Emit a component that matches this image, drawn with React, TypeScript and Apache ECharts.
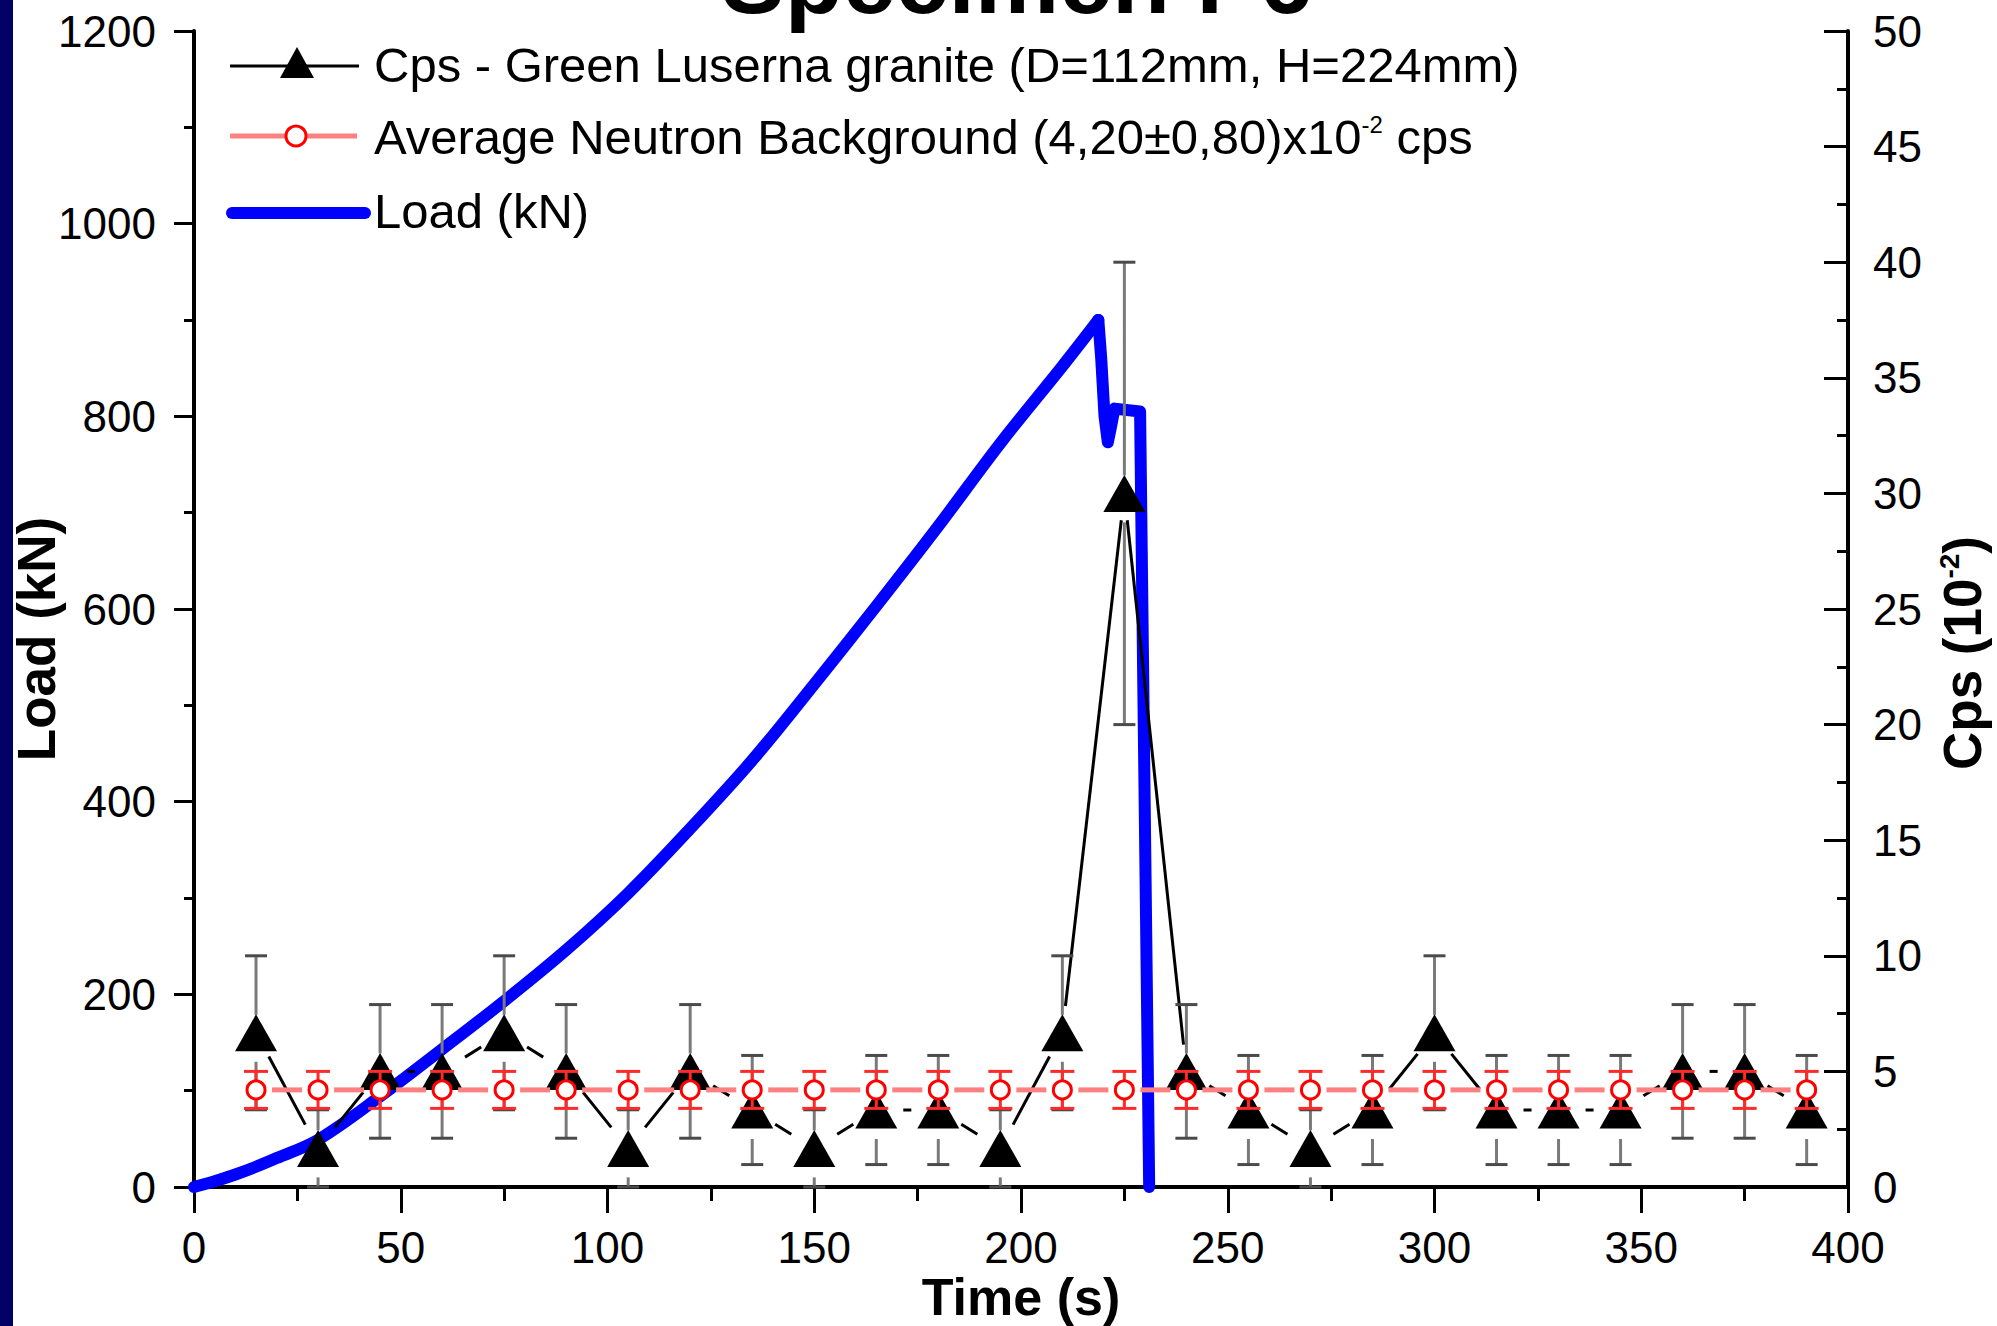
import React, { useEffect, useRef } from "react";
import * as echarts from "echarts";

// ---- Data ----
// Load (kN) vs time (s): loading branch, then failure branch
const loadTime = [0, 5, 10, 15, 20, 30, 45, 60, 75, 90, 105, 120, 135, 150, 165, 180, 195, 210, 218.7];
const loadValue = [0, 6, 13, 21, 30, 49, 94, 143, 193, 246, 305, 372, 443, 522, 603, 686, 772, 852, 900];
const failTime = [218.7, 219.4, 220.2, 221, 221.8, 222.6, 228.8, 231];
const failValue = [900, 860, 800, 773, 790, 808, 805, 0];

const cpsTime = [15, 30, 45, 60, 75, 90, 105, 120, 135, 150, 165, 180, 195, 210, 225, 240, 255, 270, 285, 300, 315, 330, 345, 360, 375, 390];
const cpsValue = [6.67, 1.67, 5, 5, 6.67, 5, 1.67, 5, 3.33, 1.67, 3.33, 3.33, 1.67, 6.67, 30, 5, 3.33, 1.67, 3.33, 6.67, 3.33, 3.33, 3.33, 5, 5, 3.33];
const cpsError = [3.33, 1.67, 2.89, 2.89, 3.33, 2.89, 1.67, 2.89, 2.36, 1.67, 2.36, 2.36, 1.67, 3.33, 10, 2.89, 2.36, 1.67, 2.36, 3.33, 2.36, 2.36, 2.36, 2.89, 2.89, 2.36];

const bgTime = [15, 30, 45, 60, 75, 90, 105, 120, 135, 150, 165, 180, 195, 210, 225, 240, 255, 270, 285, 300, 315, 330, 345, 360, 375, 390];
const bgValue = [4.2, 4.2, 4.2, 4.2, 4.2, 4.2, 4.2, 4.2, 4.2, 4.2, 4.2, 4.2, 4.2, 4.2, 4.2, 4.2, 4.2, 4.2, 4.2, 4.2, 4.2, 4.2, 4.2, 4.2, 4.2, 4.2];
const bgError = [0.8, 0.8, 0.8, 0.8, 0.8, 0.8, 0.8, 0.8, 0.8, 0.8, 0.8, 0.8, 0.8, 0.8, 0.8, 0.8, 0.8, 0.8, 0.8, 0.8, 0.8, 0.8, 0.8, 0.8, 0.8, 0.8];

const legendCps = "Cps - Green Luserna granite (D=112mm, H=224mm)";
const legendBgMain = "Average Neutron Background (4,20±0,80)x10";
const legendBgSup = "-2";
const legendBgTail = " cps";
const legendLoad = "Load (kN)";
const titleText = "Specimen P6";
const xName = "Time (s)";
const yLeftName = "Load (kN)";

const FONT = "Liberation Sans";

function segmentRenderer(gap: number, color: string, width: number) {
  return (params: any, api: any) => {
    const p1 = api.coord([api.value(0), api.value(1)]);
    const p2 = api.coord([api.value(2), api.value(3)]);
    const dx = p2[0] - p1[0];
    const dy = p2[1] - p1[1];
    const len = Math.hypot(dx, dy);
    if (len <= 2 * gap + 0.5) return { type: "group", children: [] };
    const ux = dx / len;
    const uy = dy / len;
    return {
      type: "line",
      shape: { x1: p1[0] + ux * gap, y1: p1[1] + uy * gap, x2: p2[0] - ux * gap, y2: p2[1] - uy * gap },
      style: { stroke: color, lineWidth: width, fill: null },
    };
  };
}

function cpsErrorRenderer(params: any, api: any) {
  const t = api.value(0);
  const v = api.value(1);
  const e = api.value(2);
  const c = api.coord([t, v]);
  const top = api.coord([t, v + e]);
  const bot = api.coord([t, v - e]);
  const x = c[0];
  const children: any[] = [];
  const lineStyle = { stroke: "#7a7a7a", lineWidth: 3 };
  const capStyle = { stroke: "#4a4a4a", lineWidth: 3 };
  const upStart = c[1] - 18;
  if (top[1] < upStart) {
    children.push({ type: "line", shape: { x1: x, y1: upStart, x2: x, y2: top[1] }, style: lineStyle });
    children.push({ type: "line", shape: { x1: x - 11, y1: top[1], x2: x + 11, y2: top[1] }, style: capStyle });
  }
  const lowStart = c[1] + 18 + 11;
  if (bot[1] > lowStart) {
    children.push({ type: "line", shape: { x1: x, y1: lowStart, x2: x, y2: bot[1] }, style: lineStyle });
    children.push({ type: "line", shape: { x1: x - 11, y1: bot[1], x2: x + 11, y2: bot[1] }, style: capStyle });
  }
  return { type: "group", children };
}

function bgErrorRenderer(params: any, api: any) {
  const t = api.value(0);
  const v = api.value(1);
  const e = api.value(2);
  const top = api.coord([t, v + e]);
  const bot = api.coord([t, v - e]);
  const x = top[0];
  const st = { stroke: "#ff2a2a", lineWidth: 3 };
  return {
    type: "group",
    children: [
      { type: "line", shape: { x1: x, y1: top[1], x2: x, y2: bot[1] }, style: st },
      { type: "line", shape: { x1: x - 12, y1: top[1], x2: x + 12, y2: top[1] }, style: st },
      { type: "line", shape: { x1: x - 12, y1: bot[1], x2: x + 12, y2: bot[1] }, style: st },
    ],
  };
}

export default function App() {
  const ref = useRef<HTMLDivElement>(null);

  useEffect(() => {
    if (!ref.current) return;
    const chart = echarts.init(ref.current, null, { renderer: "svg" });

    const axisLabel = { color: "#000", fontSize: 44, fontFamily: FONT, formatter: (v: number) => String(v) };
    const axisLine = { show: true, onZero: false, lineStyle: { color: "#000", width: 4 } };

    const option: any = {
      animation: false,
      backgroundColor: "#ffffff",
      textStyle: { fontFamily: FONT },
      grid: { left: 194, right: 149, top: 31, bottom: 139, containLabel: false },
      xAxis: {
        type: "value",
        min: 0,
        max: 400,
        interval: 50,
        axisLine,
        axisTick: { show: true, inside: false, length: 26, lineStyle: { color: "#000", width: 3 } },
        minorTick: { show: true, splitNumber: 2, length: 14, lineStyle: { color: "#000", width: 3 } },
        axisLabel: { ...axisLabel, margin: 38 },
        splitLine: { show: false },
        minorSplitLine: { show: false },
      },
      yAxis: [
        {
          type: "value",
          position: "left",
          min: 0,
          max: 1200,
          interval: 200,
          axisLine,
          axisTick: { show: true, inside: false, length: 20, lineStyle: { color: "#000", width: 3 } },
          minorTick: { show: true, splitNumber: 2, length: 10, lineStyle: { color: "#000", width: 3 } },
          axisLabel: { ...axisLabel, margin: 38 },
          splitLine: { show: false },
        },
        {
          type: "value",
          position: "right",
          min: 0,
          max: 50,
          interval: 5,
          axisLine,
          axisTick: { show: true, inside: true, length: 24, lineStyle: { color: "#000", width: 3 } },
          minorTick: { show: true, splitNumber: 2, length: 11, lineStyle: { color: "#000", width: 3 } },
          axisLabel: { ...axisLabel, margin: 25 },
          splitLine: { show: false },
        },
      ],
      series: [
        {
          type: "line",
          name: legendLoad,
          yAxisIndex: 0,
          data: loadTime.map((t, i) => [t, loadValue[i]]),
          showSymbol: false,
          symbol: "none",
          smooth: 0.35,
          lineStyle: { color: "#0000ff", width: 12, cap: "round", join: "round" },
          itemStyle: { color: "#0000ff" },
          z: 1,
          silent: true,
        },
        {
          type: "line",
          name: legendLoad + " failure",
          yAxisIndex: 0,
          data: failTime.map((t, i) => [t, failValue[i]]),
          showSymbol: false,
          symbol: "none",
          lineStyle: { color: "#0000ff", width: 12, cap: "round", join: "round" },
          itemStyle: { color: "#0000ff" },
          z: 1,
          silent: true,
        },
        {
          type: "custom",
          name: "cps-line",
          yAxisIndex: 1,
          data: cpsTime.slice(0, -1).map((t, i) => [t, cpsValue[i], cpsTime[i + 1], cpsValue[i + 1]]),
          encode: { x: [0, 2], y: [1, 3] },
          renderItem: segmentRenderer(27, "#000000", 3),
          z: 3,
          silent: true,
        },
        {
          type: "custom",
          name: "cps-error",
          yAxisIndex: 1,
          data: cpsTime.map((t, i) => [t, cpsValue[i], cpsError[i]]),
          encode: { x: 0, y: 1 },
          renderItem: cpsErrorRenderer,
          z: 3,
          silent: true,
        },
        {
          type: "scatter",
          name: legendCps,
          yAxisIndex: 1,
          data: cpsTime.map((t, i) => [t, cpsValue[i]]),
          symbol: "triangle",
          symbolSize: [42, 37],
          itemStyle: { color: "#000000", opacity: 1 },
          z: 4,
          silent: true,
        },
        {
          type: "custom",
          name: "bg-line",
          yAxisIndex: 1,
          data: bgTime.slice(0, -1).map((t, i) => [t, bgValue[i], bgTime[i + 1], bgValue[i + 1]]),
          encode: { x: [0, 2], y: [1, 3] },
          renderItem: segmentRenderer(16, "#ff8080", 5),
          z: 5,
          silent: true,
        },
        {
          type: "custom",
          name: "bg-error",
          yAxisIndex: 1,
          data: bgTime.map((t, i) => [t, bgValue[i], bgError[i]]),
          encode: { x: 0, y: 1 },
          renderItem: bgErrorRenderer,
          z: 6,
          silent: true,
        },
        {
          type: "scatter",
          name: "Average Neutron Background",
          yAxisIndex: 1,
          data: bgTime.map((t, i) => [t, bgValue[i]]),
          symbol: "circle",
          symbolSize: 18,
          itemStyle: { color: "#ffffff", borderColor: "#ff0000", borderWidth: 3, opacity: 1 },
          z: 7,
          silent: true,
        },
      ],
      graphic: [
        { type: "rect", shape: { x: 0, y: 0, width: 13, height: 1326 }, style: { fill: "#000066" }, z: 100 },
        {
          type: "text",
          x: 1017,
          y: -20,
          style: { text: titleText, fill: "#000", font: `bold 95px "${FONT}"`, align: "center", verticalAlign: "middle" },
          z: 100,
        },
        {
          type: "text",
          x: 1021,
          y: 1297,
          style: { text: xName, fill: "#000", font: `bold 52px "${FONT}"`, align: "center", verticalAlign: "middle" },
          z: 100,
        },
        {
          type: "text",
          x: 36,
          y: 639,
          rotation: Math.PI / 2,
          style: { text: yLeftName, fill: "#000", font: `bold 53px "${FONT}"`, align: "center", verticalAlign: "middle" },
          z: 100,
        },
        {
          type: "text",
          x: 1962,
          y: 653,
          rotation: Math.PI / 2,
          style: {
            text: "{b|Cps (10}{t|-2}{b|)}",
            fill: "#000",
            font: `bold 53px "${FONT}"`,
            align: "center",
            verticalAlign: "middle",
            rich: {
              b: { fontSize: 53, fontWeight: "bold", fontFamily: FONT, fill: "#000", lineHeight: 53 },
              t: { fontSize: 28, fontWeight: "bold", fontFamily: FONT, fill: "#000", verticalAlign: "top", lineHeight: 28 },
            },
          },
          z: 100,
        },
        // legend
        { type: "line", shape: { x1: 230, y1: 66, x2: 359, y2: 66 }, style: { stroke: "#000", lineWidth: 3 }, z: 100 },
        { type: "polygon", shape: { points: [[280, 78], [314, 78], [297, 47]] }, style: { fill: "#000" }, z: 101 },
        {
          type: "text",
          x: 374,
          y: 65,
          style: { text: legendCps, fill: "#000", font: `49px "${FONT}"`, align: "left", verticalAlign: "middle" },
          z: 100,
        },
        { type: "line", shape: { x1: 230, y1: 136, x2: 357, y2: 136 }, style: { stroke: "#ff8080", lineWidth: 5 }, z: 100 },
        { type: "circle", shape: { cx: 296, cy: 136, r: 10 }, style: { fill: "#fff", stroke: "#ff0000", lineWidth: 3 }, z: 101 },
        {
          type: "text",
          x: 374,
          y: 137,
          style: {
            text: `{a|${legendBgMain}}{s|${legendBgSup}}{a|${legendBgTail}}`,
            fill: "#000",
            font: `49px "${FONT}"`,
            align: "left",
            verticalAlign: "middle",
            rich: {
              a: { fontSize: 49, fontFamily: FONT, fill: "#000", lineHeight: 49 },
              s: { fontSize: 24, fontFamily: FONT, fill: "#000", verticalAlign: "top", lineHeight: 24 },
            },
          },
          z: 100,
        },
        { type: "line", shape: { x1: 232, y1: 213, x2: 365, y2: 213 }, style: { stroke: "#0000ff", lineWidth: 12, lineCap: "round" }, z: 100 },
        {
          type: "text",
          x: 374,
          y: 211,
          style: { text: legendLoad, fill: "#000", font: `49px "${FONT}"`, align: "left", verticalAlign: "middle" },
          z: 100,
        },
      ],
    };

    chart.setOption(option);
    return () => {
      chart.dispose();
    };
  }, []);

  return (
    <div
      ref={ref}
      style={{ position: "fixed", left: 0, top: 0, width: 1997, height: 1326, background: "#ffffff" }}
    />
  );
}
